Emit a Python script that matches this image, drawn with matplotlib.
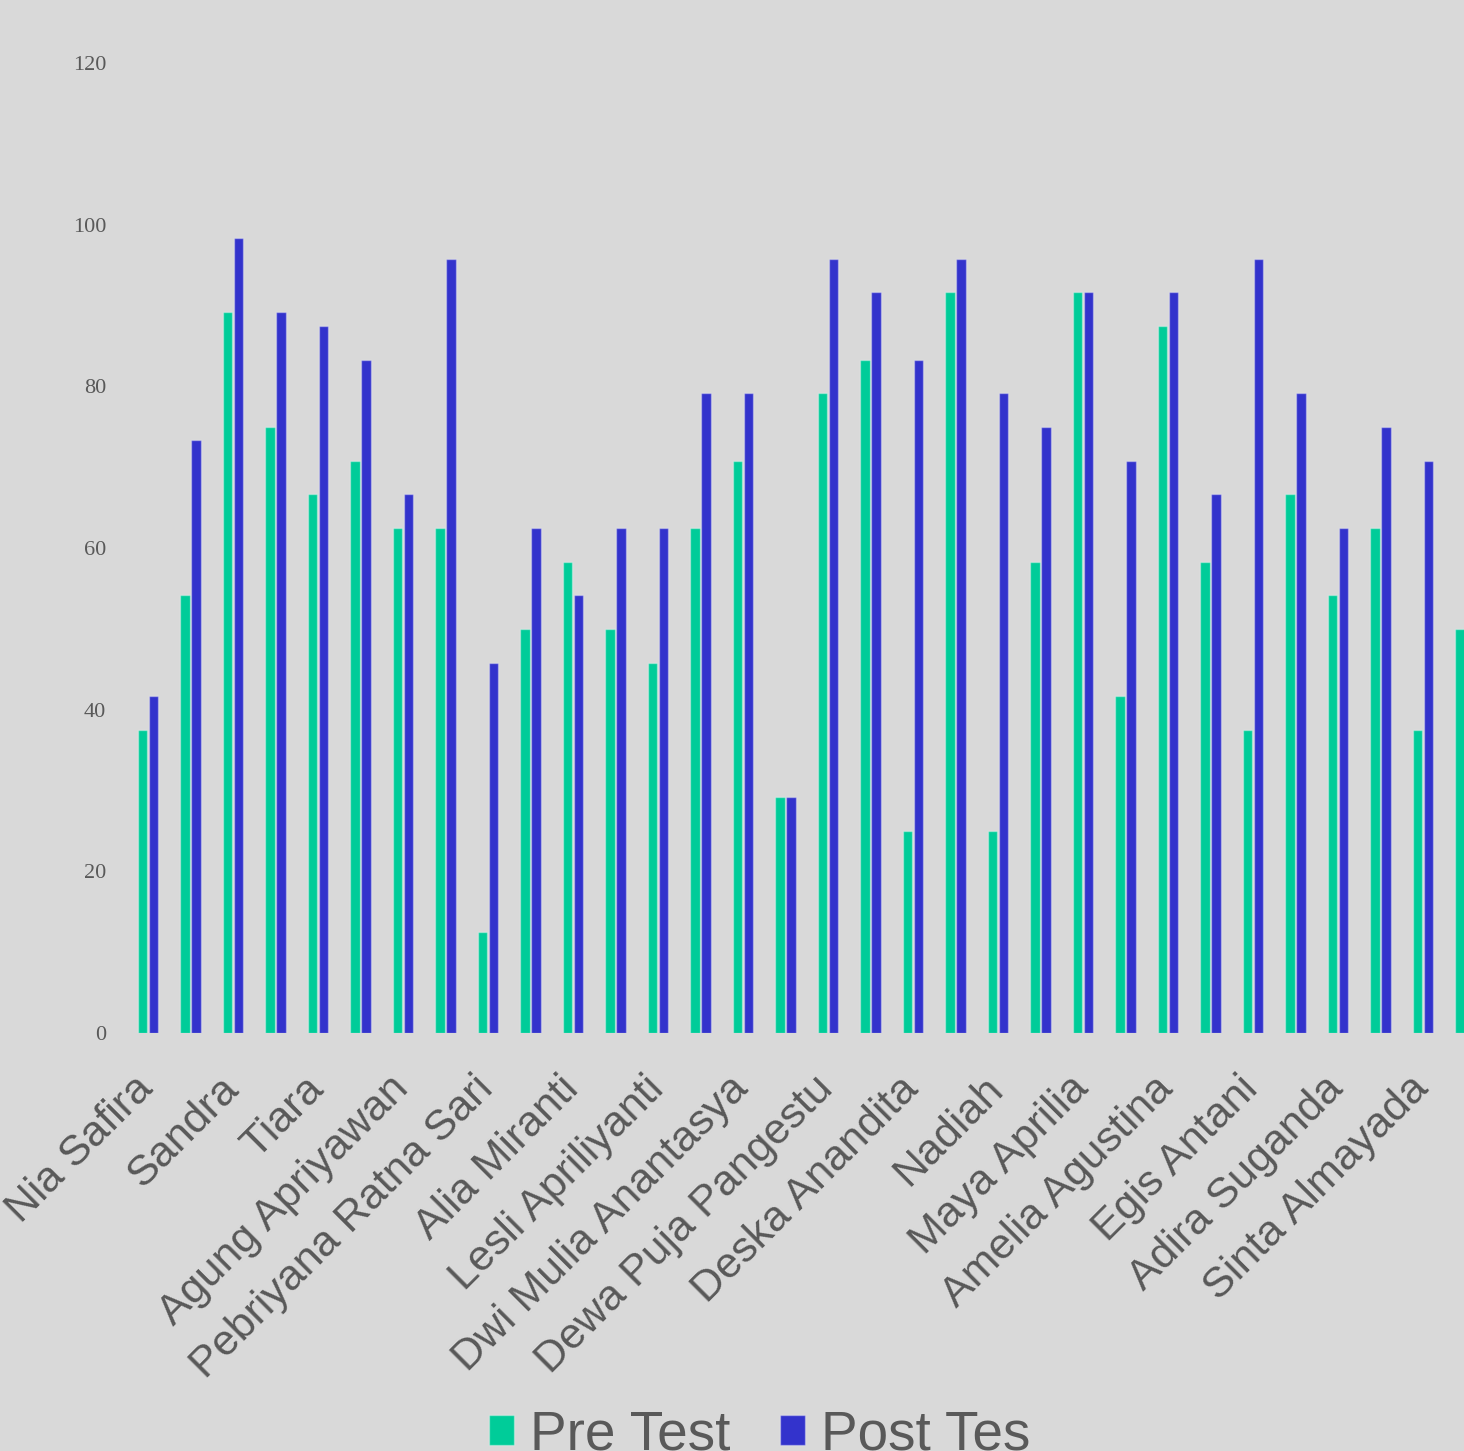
import numpy as np
import matplotlib.pyplot as plt
from matplotlib.transforms import ScaledTranslation

# student names shown on the axis (every other student is labelled)
shown_names = ["Nia Safira", "Sandra", "Tiara", "Agung Apriyawan",
               "Pebriyana Ratna Sari", "Alia Miranti", "Lesli Apriliyanti",
               "Dwi Mulia Anantasya", "Dewa Puja Pangestu", "Deska Anandita",
               "Nadiah", "Maya Aprilia", "Amelia Agustina", "Egis Antani",
               "Adira Suganda", "Sinta Almayada"]

pre_test = [37.5, 54.2, 89.2, 75.0, 66.7, 70.8, 62.5, 62.5, 12.5, 50.0,
            58.3, 50.0, 45.8, 62.5, 70.8, 29.2, 79.2, 83.3, 25.0, 91.7,
            25.0, 58.3, 91.7, 41.7, 87.5, 58.3, 37.5, 66.7, 54.2, 62.5,
            37.5, 50.0]
post_test = [41.7, 73.3, 98.3, 89.2, 87.5, 83.3, 66.7, 95.8, 45.8, 62.5,
             54.2, 62.5, 62.5, 79.2, 79.2, 29.2, 95.8, 91.7, 83.3, 95.8,
             79.2, 75.0, 91.7, 70.8, 91.7, 66.7, 95.8, 79.2, 62.5, 75.0,
             70.8, 62.5]

yticks = [0, 20, 40, 60, 80, 100, 120]

bg = "#d9d9d9"
green = "#00cc99"
blue = "#3333cc"
text_col = "#595959"


def main():
    fig = plt.figure(figsize=(14.64, 14.51), dpi=100, facecolor=bg)
    ax = fig.add_axes([0.0867, 0.2881, 1 - 0.0867, 0.9566 - 0.2881])
    ax.set_facecolor(bg)

    x = np.arange(len(pre_test))
    w = 0.224
    ax.bar(x - 0.13, pre_test, width=w, color=green,
           edgecolor=(1, 1, 1, 0.35), linewidth=1, label="Pre Test")
    ax.bar(x + 0.13, post_test, width=w, color=blue,
           edgecolor=(1, 1, 1, 0.35), linewidth=1, label="Post Tes")

    ax.set_xlim(-0.5, 30.96)
    ax.set_ylim(0, 120)

    for s in ax.spines.values():
        s.set_visible(False)

    ax.set_yticks(yticks)
    ax.set_yticklabels([str(v) for v in yticks], fontfamily="Liberation Serif",
                       fontsize=16, color=text_col)
    ax.tick_params(axis="y", length=0, pad=15)

    ax.set_xticks(x[::2])
    ax.set_xticklabels(shown_names, rotation=45, ha="right",
                       rotation_mode="anchor", fontfamily="Liberation Sans",
                       fontsize=31, color=text_col)
    ax.tick_params(axis="x", length=0, pad=30)
    shift = ScaledTranslation(-15 / 100, 6 / 100, fig.dpi_scale_trans)
    for lab in ax.get_xticklabels():
        lab.set_transform(lab.get_transform() + shift)

    leg = fig.legend(loc="center", bbox_to_anchor=(0.519, 0.0105), ncol=2,
                     frameon=False, borderpad=0, handlelength=0.45,
                     handleheight=0.45, handletextpad=0.3, columnspacing=0.9,
                     prop={"family": "Liberation Sans", "size": 39.5})
    for t in leg.get_texts():
        t.set_color(text_col)

    fig.savefig("out.png", dpi=100, facecolor=bg)


if __name__ == '__main__':
    main()
